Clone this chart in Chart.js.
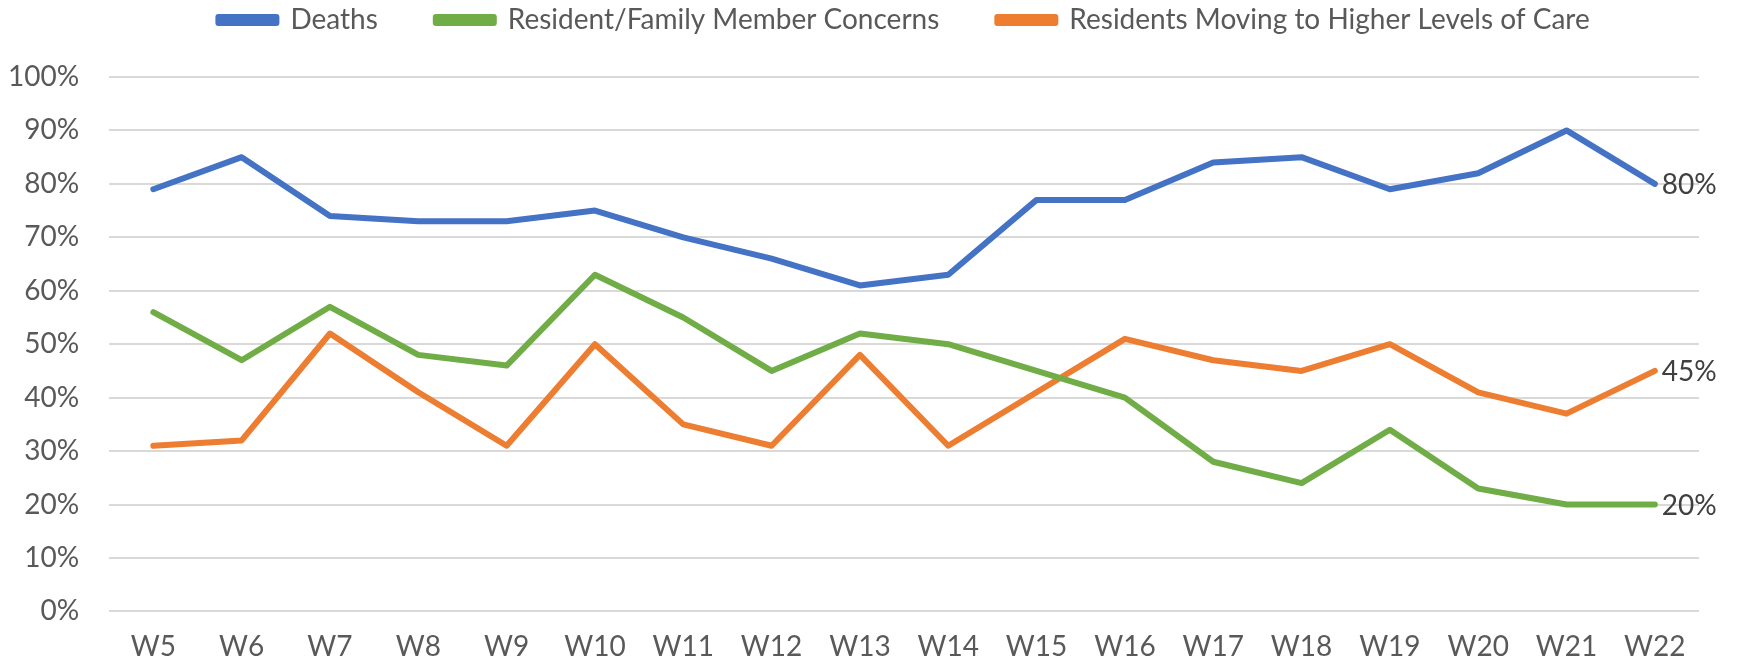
<!DOCTYPE html>
<html>
<head>
<meta charset="utf-8">
<script src="https://cdn.jsdelivr.net/npm/chart.js@4/dist/chart.umd.min.js"></script>
<style>
  html, body { margin: 0; padding: 0; background: #fff; }
  #wrap { width: 1738px; height: 669px; }
</style>
</head>
<body>
<div id="wrap"><canvas id="chart"></canvas></div>
<script>
const weeks = ["W5", "W6", "W7", "W8", "W9", "W10", "W11", "W12", "W13", "W14", "W15", "W16", "W17", "W18", "W19", "W20", "W21", "W22"];
const deaths = [79, 85, 74, 73, 73, 75, 70, 66, 61, 63, 77, 77, 84, 85, 79, 82, 90, 80];
const concerns = [56, 47, 57, 48, 46, 63, 55, 45, 52, 50, 45, 40, 28, 24, 34, 23, 20, 20];
const higherCare = [31, 32, 52, 41, 31, 50, 35, 31, 48, 31, 41, 51, 47, 45, 50, 41, 37, 45];
const yTicks = [0, 10, 20, 30, 40, 50, 60, 70, 80, 90, 100];

const FONT = "Lato, 'Liberation Sans', sans-serif";
const LEGEND_PAD = 58;

// label the last point of each line
const endLabels = {
  id: "endLabels",
  afterDatasetsDraw(chart) {
    const ctx = chart.ctx;
    ctx.save();
    ctx.font = "28px " + FONT;
    ctx.fillStyle = "#404040";
    ctx.textAlign = "left";
    ctx.textBaseline = "middle";
    chart.data.datasets.forEach((ds, i) => {
      const pts = chart.getDatasetMeta(i).data;
      const last = pts[pts.length - 1];
      ctx.fillText(ds.data[ds.data.length - 1] + "%", last.x + 7, last.y + 1);
    });
    ctx.restore();
  },
};

// legend padding is wide (for item spacing), so fix its height by hand
const legendGap = {
  id: "legendGap",
  beforeInit(chart) {
    const fit = chart.legend.fit;
    chart.legend.fit = function () {
      fit.bind(chart.legend)();
      this.height = 129;
    };
  },
};

new Chart(document.getElementById("chart").getContext("2d"), {
  type: "line",
  data: {
    labels: weeks,
    datasets: [
      { label: "Deaths", data: deaths, borderColor: "#4472C4", backgroundColor: "#4472C4" },
      { label: "Resident/Family Member Concerns", data: concerns, borderColor: "#70AD47", backgroundColor: "#70AD47" },
      { label: "Residents Moving to Higher Levels of Care", data: higherCare, borderColor: "#ED7D31", backgroundColor: "#ED7D31" },
    ],
  },
  options: {
    responsive: true,
    maintainAspectRatio: false,
    animation: false,
    layout: { padding: { left: -22, right: 39, top: 6 - LEGEND_PAD, bottom: -14 } },
    elements: {
      line: { borderWidth: 6, tension: 0, borderCapStyle: "round", borderJoinStyle: "round", fill: false },
      point: { radius: 0, hoverRadius: 0 },
    },
    plugins: {
      tooltip: { enabled: false },
      legend: {
        position: "top",
        fullSize: false,
        labels: {
          font: { family: FONT, size: 28 },
          color: "#595959",
          boxWidth: 58,
          boxHeight: 6,
          padding: LEGEND_PAD,
        },
      },
    },
    scales: {
      x: {
        offset: true,
        grid: { display: false, drawTicks: false },
        border: { display: false },
        ticks: { font: { family: FONT, size: 28 }, color: "#595959", padding: 19 },
      },
      y: {
        min: 0,
        max: 100,
        afterBuildTicks(axis) {
          axis.ticks = yTicks.map((v) => ({ value: v }));
        },
        grid: { color: "#d9d9d9", lineWidth: 2, drawTicks: false },
        border: { display: false },
        ticks: {
          font: { family: FONT, size: 28 },
          color: "#595959",
          padding: 30,
          callback: (v) => v + "%",
        },
      },
    },
  },
  plugins: [endLabels, legendGap],
});
</script>
</body>
</html>
